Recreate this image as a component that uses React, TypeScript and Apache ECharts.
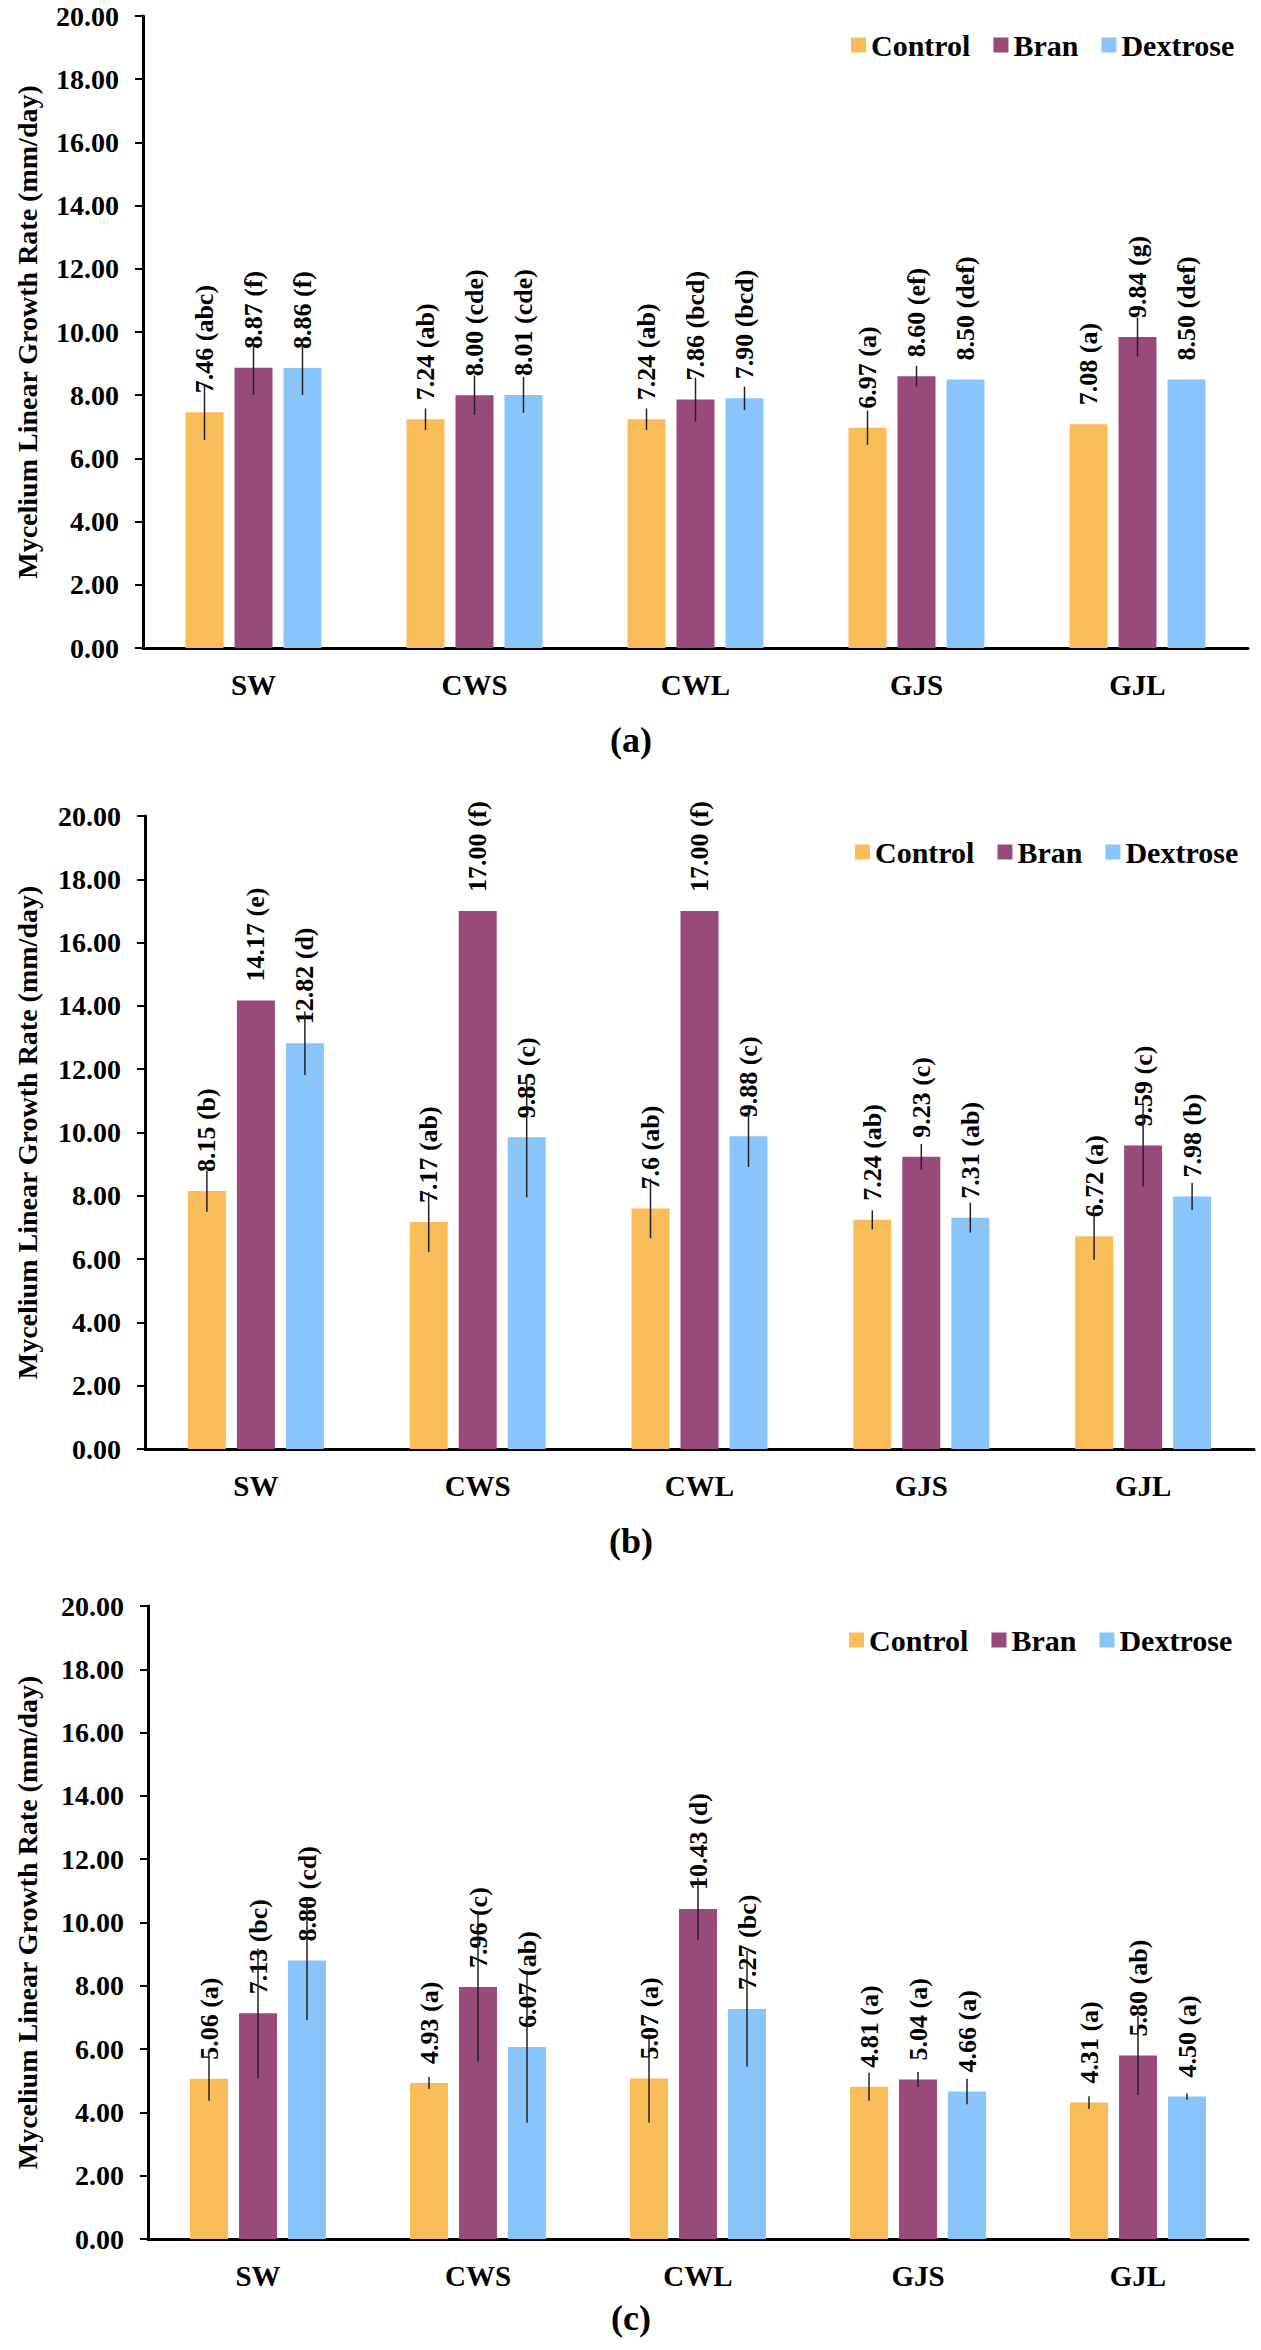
import React, { useEffect, useRef } from "react";
import * as echarts from "echarts";

// ---------- data ----------
const categories = ["SW", "CWS", "CWL", "GJS", "GJL"];
const seriesNames = ["Control", "Bran", "Dextrose"];
const colors = ["#F8BC58", "#984A7A", "#89C4FA"];

// panel (a)
const controlA = [7.46, 7.24, 7.24, 6.97, 7.08];
const branA = [8.87, 8.0, 7.86, 8.6, 9.84];
const dextroseA = [8.86, 8.01, 7.9, 8.5, 8.5];
const controlErrA = [0.88, 0.34, 0.34, 0.54, 0];
const branErrA = [0.86, 0.62, 0.7, 0.33, 0.62];
const dextroseErrA = [0.85, 0.57, 0.37, 0, 0];
const controlLabA = ["7.46 (abc)", "7.24 (ab)", "7.24 (ab)", "6.97 (a)", "7.08 (a)"];
const branLabA = ["8.87 (f)", "8.00 (cde)", "7.86 (bcd)", "8.60 (ef)", "9.84 (g)"];
const dextroseLabA = ["8.86 (f)", "8.01 (cde)", "7.90 (bcd)", "8.50 (def)", "8.50 (def)"];

// panel (b)
const controlB = [8.15, 7.17, 7.6, 7.24, 6.72];
const branB = [14.17, 17.0, 17.0, 9.23, 9.59];
const dextroseB = [12.82, 9.85, 9.88, 7.31, 7.98];
const controlErrB = [0.65, 0.94, 0.94, 0.3, 0.74];
const branErrB = [0, 0, 0, 0.41, 1.3];
const dextroseErrB = [1.0, 1.9, 0.97, 0.47, 0.43];
const controlLabB = ["8.15 (b)", "7.17 (ab)", "7.6 (ab)", "7.24 (ab)", "6.72 (a)"];
const branLabB = ["14.17 (e)", "17.00 (f)", "17.00 (f)", "9.23 (c)", "9.59 (c)"];
const dextroseLabB = ["12.82 (d)", "9.85 (c)", "9.88 (c)", "7.31 (ab)", "7.98 (b)"];

// panel (c)
const controlC = [5.06, 4.93, 5.07, 4.81, 4.31];
const branC = [7.13, 7.96, 10.43, 5.04, 5.8];
const dextroseC = [8.8, 6.07, 7.27, 4.66, 4.5];
const controlErrC = [0.69, 0.19, 1.4, 0.44, 0.2];
const branErrC = [2.05, 2.36, 0.98, 0.24, 1.25];
const dextroseErrC = [1.88, 2.4, 1.83, 0.4, 0.1];
const controlLabC = ["5.06 (a)", "4.93 (a)", "5.07 (a)", "4.81 (a)", "4.31 (a)"];
const branLabC = ["7.13 (bc)", "7.96 (c)", "10.43 (d)", "5.04 (a)", "5.80 (ab)"];
const dextroseLabC = ["8.80 (cd)", "6.07 (ab)", "7.27 (bc)", "4.66 (a)", "4.50 (a)"];

const yMin = 0;
const yMax = 20;
const yInterval = 2;
const yTitle = "Mycelium Linear Growth Rate (mm/day)";
const captions = ["(a)", "(b)", "(c)"];

// ---------- layout ----------
const FONT = "'Liberation Serif', 'Times New Roman', serif";
const BAR_W = 38;
const BAR_GAP = 11;

const panels = [
  {
    left: 143, top: 16, width: 1105, height: 632,
    legendLeft: 846, legendTop: 25, captionY: 740,
    values: [controlA, branA, dextroseA],
    errs: [controlErrA, branErrA, dextroseErrA],
    labels: [controlLabA, branLabA, dextroseLabA],
  },
  {
    left: 145, top: 816, width: 1109, height: 633,
    legendLeft: 850, legendTop: 832, captionY: 1541,
    values: [controlB, branB, dextroseB],
    errs: [controlErrB, branErrB, dextroseErrB],
    labels: [controlLabB, branLabB, dextroseLabB],
  },
  {
    left: 148, top: 1606, width: 1100, height: 633,
    legendLeft: 844, legendTop: 1620, captionY: 2318,
    values: [controlC, branC, dextroseC],
    errs: [controlErrC, branErrC, dextroseErrC],
    labels: [controlLabC, branLabC, dextroseLabC],
  },
];

function buildOption() {
  const grid: any[] = [];
  const xAxis: any[] = [];
  const yAxis: any[] = [];
  const series: any[] = [];
  const legend: any[] = [];
  const graphic: any[] = [];

  panels.forEach((p, i) => {
    grid.push({ left: p.left, top: p.top, width: p.width, height: p.height });
    xAxis.push({
      type: "category",
      gridIndex: i,
      data: categories,
      axisLine: { show: true, lineStyle: { color: "#000", width: 3 } },
      axisTick: { show: false },
      axisLabel: {
        color: "#000",
        fontFamily: FONT,
        fontWeight: "bold",
        fontSize: 29,
        margin: 22,
      },
      splitLine: { show: false },
    });
    yAxis.push({
      type: "value",
      gridIndex: i,
      min: yMin,
      max: yMax,
      interval: yInterval,
      axisLine: { show: true, lineStyle: { color: "#000", width: 3 } },
      axisTick: { show: true, length: 8, lineStyle: { color: "#000", width: 2 } },
      axisLabel: {
        color: "#000",
        fontFamily: FONT,
        fontWeight: "bold",
        fontSize: 28,
        margin: 24,
        formatter: (v: number) => v.toFixed(2),
      },
      splitLine: { show: false },
    });

    seriesNames.forEach((name, j) => {
      const labs = p.labels[j];
      series.push({
        type: "bar",
        name,
        xAxisIndex: i,
        yAxisIndex: i,
        data: p.values[j],
        barWidth: BAR_W,
        barGap: (BAR_GAP / BAR_W) * 100 + "%",
        itemStyle: { color: colors[j] },
        label: {
          show: true,
          position: "top",
          rotate: 90,
          align: "left",
          verticalAlign: "middle",
          distance: 19,
          color: "#000",
          fontFamily: FONT,
          fontWeight: "bold",
          fontSize: 26,
          formatter: (prm: any) => labs[prm.dataIndex],
        },
      });
    });

    seriesNames.forEach((_name, j) => {
      const offset = (j - 1) * (BAR_W + BAR_GAP);
      const errs = p.errs[j];
      series.push({
        type: "custom",
        xAxisIndex: i,
        yAxisIndex: i,
        silent: true,
        z: 10,
        encode: { x: 0, y: 1 },
        data: p.values[j].map((v, k) => [k, v, errs[k]]),
        renderItem: (_params: any, api: any) => {
          const c = api.value(0);
          const v = api.value(1);
          const e = api.value(2);
          if (!e) return null;
          const top = api.coord([c, v + e]);
          const bot = api.coord([c, v - e]);
          const x = top[0] + offset;
          return {
            type: "line",
            shape: { x1: x, y1: top[1], x2: x, y2: bot[1] },
            style: { stroke: "#222", lineWidth: 1.5 },
          };
        },
      });
    });

    legend.push({
      data: seriesNames,
      left: p.legendLeft,
      top: p.legendTop,
      orient: "horizontal",
      icon: "rect",
      itemWidth: 15,
      itemHeight: 15,
      itemGap: 23,
      selectedMode: false,
      textStyle: {
        color: "#000",
        fontFamily: FONT,
        fontWeight: "bold",
        fontSize: 30,
      },
    });

    graphic.push({
      type: "text",
      x: 27,
      y: p.top + p.height / 2,
      rotation: Math.PI / 2,
      style: {
        text: yTitle,
        fill: "#000",
        font: `bold 28px ${FONT}`,
        align: "center",
        verticalAlign: "middle",
      },
    });
    graphic.push({
      type: "text",
      x: 631,
      y: p.captionY,
      style: {
        text: captions[i],
        fill: "#000",
        font: `bold 36px ${FONT}`,
        align: "center",
        verticalAlign: "middle",
      },
    });
  });

  return {
    animation: false,
    backgroundColor: "#fff",
    grid,
    xAxis,
    yAxis,
    legend,
    series,
    graphic,
  };
}

export default function App() {
  const ref = useRef<HTMLDivElement>(null);
  useEffect(() => {
    if (!ref.current) return;
    const chart = echarts.init(ref.current, undefined, { renderer: "svg" });
    chart.setOption(buildOption() as any);
    return () => chart.dispose();
  }, []);
  return (
    <div
      ref={ref}
      style={{ position: "absolute", left: 0, top: 0, width: 1261, height: 2350, background: "#fff" }}
    />
  );
}
